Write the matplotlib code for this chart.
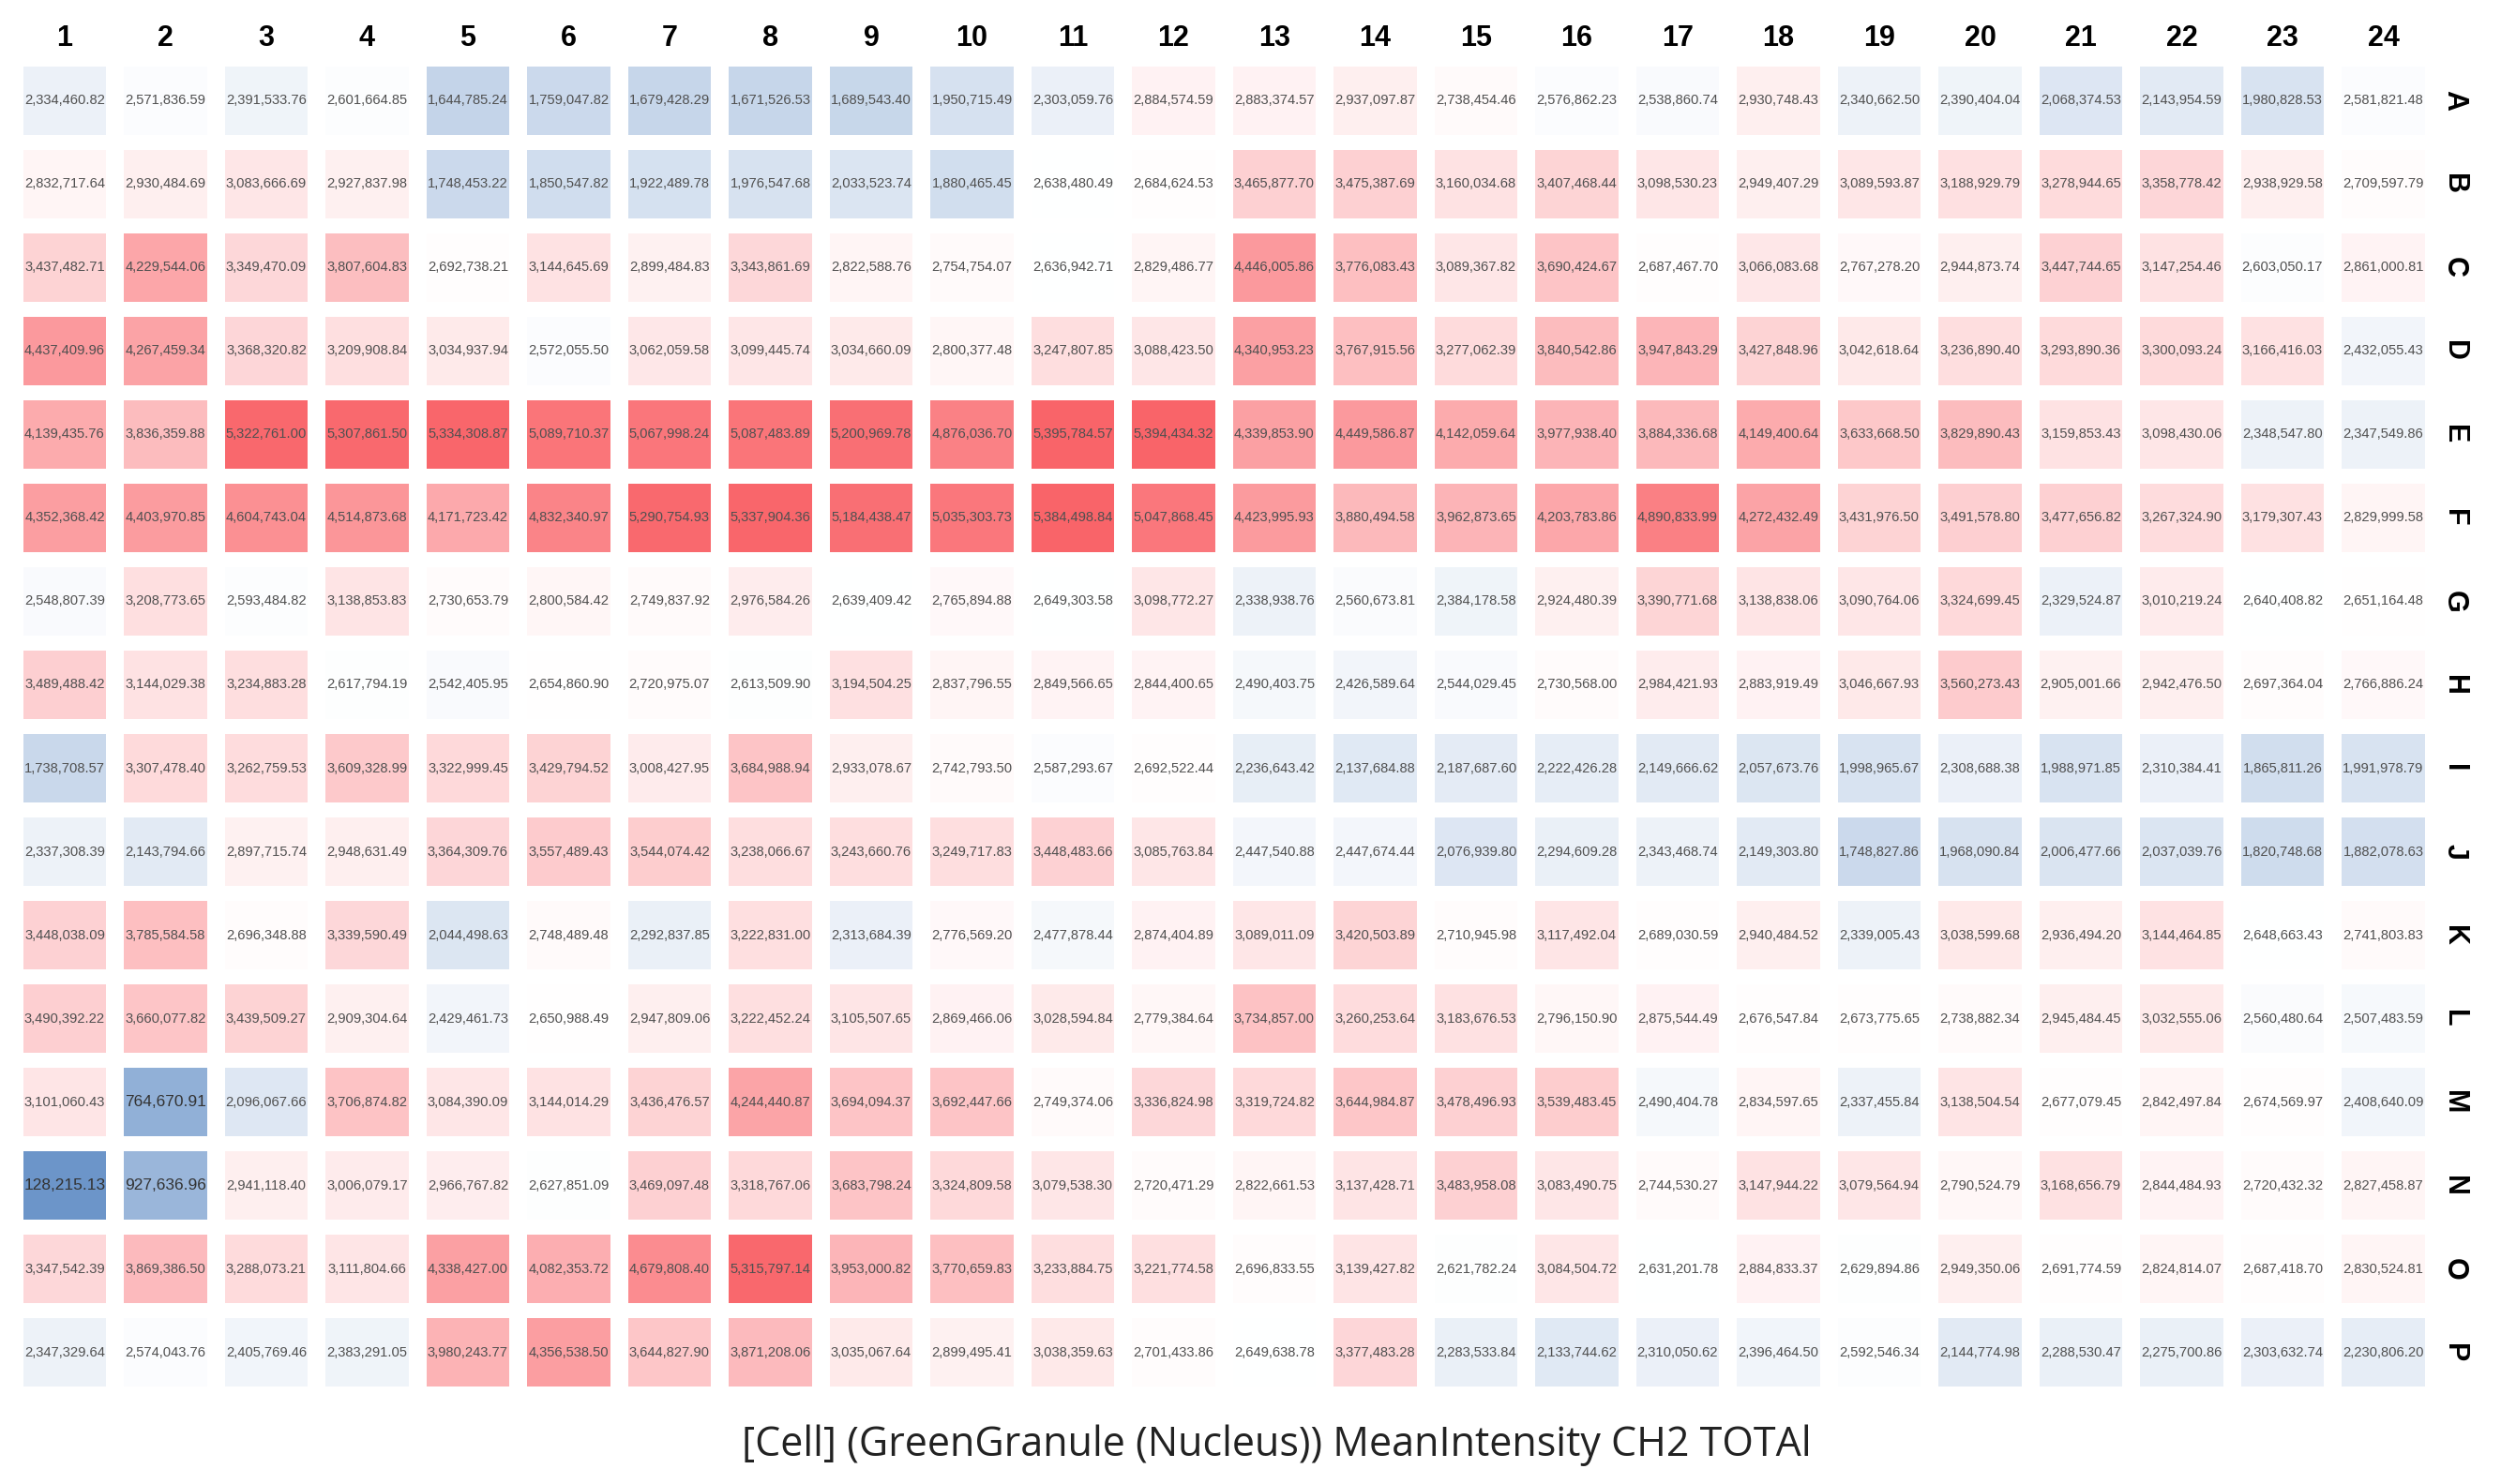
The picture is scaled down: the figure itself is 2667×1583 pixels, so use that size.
from matplotlib import pyplot as plt
from matplotlib.colors import LinearSegmentedColormap, TwoSlopeNorm
import numpy as np

columns = [str(i) for i in range(1, 25)]
rows = list("ABCDEFGHIJKLMNOP")
title = "[Cell] (GreenGranule (Nucleus)) MeanIntensity CH2 TOTAl"

# values, some digits are a best guess since the text is blurry
row_A = [2334460.82, 2571836.59, 2391533.76, 2601664.85, 1644785.24, 1759047.82, 1679428.29, 1671526.53, 1689543.40, 1950715.49, 2303059.76, 2884574.59, 2883374.57, 2937097.87, 2738454.46, 2576862.23, 2538860.74, 2930748.43, 2340662.50, 2390404.04, 2068374.53, 2143954.59, 1980828.53, 2581821.48]
row_B = [2832717.64, 2930484.69, 3083666.69, 2927837.98, 1748453.22, 1850547.82, 1922489.78, 1976547.68, 2033523.74, 1880465.45, 2638480.49, 2684624.53, 3465877.70, 3475387.69, 3160034.68, 3407468.44, 3098530.23, 2949407.29, 3089593.87, 3188929.79, 3278944.65, 3358778.42, 2938929.58, 2709597.79]
row_C = [3437482.71, 4229544.06, 3349470.09, 3807604.83, 2692738.21, 3144645.69, 2899484.83, 3343861.69, 2822588.76, 2754754.07, 2636942.71, 2829486.77, 4446005.86, 3776083.43, 3089367.82, 3690424.67, 2687467.70, 3066083.68, 2767278.20, 2944873.74, 3447744.65, 3147254.46, 2603050.17, 2861000.81]
row_D = [4437409.96, 4267459.34, 3368320.82, 3209908.84, 3034937.94, 2572055.50, 3062059.58, 3099445.74, 3034660.09, 2800377.48, 3247807.85, 3088423.50, 4340953.23, 3767915.56, 3277062.39, 3840542.86, 3947843.29, 3427848.96, 3042618.64, 3236890.40, 3293890.36, 3300093.24, 3166416.03, 2432055.43]
row_E = [4139435.76, 3836359.88, 5322761.00, 5307861.50, 5334308.87, 5089710.37, 5067998.24, 5087483.89, 5200969.78, 4876036.70, 5395784.57, 5394434.32, 4339853.90, 4449586.87, 4142059.64, 3977938.40, 3884336.68, 4149400.64, 3633668.50, 3829890.43, 3159853.43, 3098430.06, 2348547.80, 2347549.86]
row_F = [4352368.42, 4403970.85, 4604743.04, 4514873.68, 4171723.42, 4832340.97, 5290754.93, 5337904.36, 5184438.47, 5035303.73, 5384498.84, 5047868.45, 4423995.93, 3880494.58, 3962873.65, 4203783.86, 4890833.99, 4272432.49, 3431976.50, 3491578.80, 3477656.82, 3267324.90, 3179307.43, 2829999.58]
row_G = [2548807.39, 3208773.65, 2593484.82, 3138853.83, 2730653.79, 2800584.42, 2749837.92, 2976584.26, 2639409.42, 2765894.88, 2649303.58, 3098772.27, 2338938.76, 2560673.81, 2384178.58, 2924480.39, 3390771.68, 3138838.06, 3090764.06, 3324699.45, 2329524.87, 3010219.24, 2640408.82, 2651164.48]
row_H = [3489488.42, 3144029.38, 3234883.28, 2617794.19, 2542405.95, 2654860.90, 2720975.07, 2613509.90, 3194504.25, 2837796.55, 2849566.65, 2844400.65, 2490403.75, 2426589.64, 2544029.45, 2730568.00, 2984421.93, 2883919.49, 3046667.93, 3560273.43, 2905001.66, 2942476.50, 2697364.04, 2766886.24]
row_I = [1738708.57, 3307478.40, 3262759.53, 3609328.99, 3322999.45, 3429794.52, 3008427.95, 3684988.94, 2933078.67, 2742793.50, 2587293.67, 2692522.44, 2236643.42, 2137684.88, 2187687.60, 2222426.28, 2149666.62, 2057673.76, 1998965.67, 2308688.38, 1988971.85, 2310384.41, 1865811.26, 1991978.79]
row_J = [2337308.39, 2143794.66, 2897715.74, 2948631.49, 3364309.76, 3557489.43, 3544074.42, 3238066.67, 3243660.76, 3249717.83, 3448483.66, 3085763.84, 2447540.88, 2447674.44, 2076939.80, 2294609.28, 2343468.74, 2149303.80, 1748827.86, 1968090.84, 2006477.66, 2037039.76, 1820748.68, 1882078.63]
row_K = [3448038.09, 3785584.58, 2696348.88, 3339590.49, 2044498.63, 2748489.48, 2292837.85, 3222831.00, 2313684.39, 2776569.20, 2477878.44, 2874404.89, 3089011.09, 3420503.89, 2710945.98, 3117492.04, 2689030.59, 2940484.52, 2339005.43, 3038599.68, 2936494.20, 3144464.85, 2648663.43, 2741803.83]
row_L = [3490392.22, 3660077.82, 3439509.27, 2909304.64, 2429461.73, 2650988.49, 2947809.06, 3222452.24, 3105507.65, 2869466.06, 3028594.84, 2779384.64, 3734857.00, 3260253.64, 3183676.53, 2796150.90, 2875544.49, 2676547.84, 2673775.65, 2738882.34, 2945484.45, 3032555.06, 2560480.64, 2507483.59]
row_M = [3101060.43, 764670.91, 2096067.66, 3706874.82, 3084390.09, 3144014.29, 3436476.57, 4244440.87, 3694094.37, 3692447.66, 2749374.06, 3336824.98, 3319724.82, 3644984.87, 3478496.93, 3539483.45, 2490404.78, 2834597.65, 2337455.84, 3138504.54, 2677079.45, 2842497.84, 2674569.97, 2408640.09]
row_N = [128215.13, 927636.96, 2941118.40, 3006079.17, 2966767.82, 2627851.09, 3469097.48, 3318767.06, 3683798.24, 3324809.58, 3079538.30, 2720471.29, 2822661.53, 3137428.71, 3483958.08, 3083490.75, 2744530.27, 3147944.22, 3079564.94, 2790524.79, 3168656.79, 2844484.93, 2720432.32, 2827458.87]
row_O = [3347542.39, 3869386.50, 3288073.21, 3111804.66, 4338427.00, 4082353.72, 4679808.40, 5315797.14, 3953000.82, 3770659.83, 3233884.75, 3221774.58, 2696833.55, 3139427.82, 2621782.24, 3084504.72, 2631201.78, 2884833.37, 2629894.86, 2949350.06, 2691774.59, 2824814.07, 2687418.70, 2830524.81]
row_P = [2347329.64, 2574043.76, 2405769.46, 2383291.05, 3980243.77, 4356538.50, 3644827.90, 3871208.06, 3035067.64, 2899495.41, 3038359.63, 2701433.86, 2649638.78, 3377483.28, 2283533.84, 2133744.62, 2310050.62, 2396464.50, 2592546.34, 2144774.98, 2288530.47, 2275700.86, 2303632.74, 2230806.20]

values = np.array([row_A, row_B, row_C, row_D, row_E, row_F, row_G, row_H,
                   row_I, row_J, row_K, row_L, row_M, row_N, row_O, row_P])

W, H = 2667, 1583
fig = plt.figure(figsize=(W/100, H/100), dpi=100)

# plate area in pixels, converted to figure fractions
ax = fig.add_axes([15.2/W, 1 - 1487.5/H, 2580/W, 1425/H])

cmap = LinearSegmentedColormap.from_list("plate", ["#6c95c9", "#ffffff", "#f96469"])
norm = TwoSlopeNorm(vmin=values.min(), vcenter=2650000, vmax=values.max())

nrows, ncols = values.shape
for r in range(nrows):
    ax.bar(np.arange(ncols), 0.82, width=0.823, bottom=r - 0.41,
           color=cmap(norm(values[r])), linewidth=0)
    for c in range(ncols):
        v = values[r, c]
        small = v < 1000000
        ax.text(c, r, f"{v:,.2f}", ha="center", va="center", family="Liberation Sans",
                fontsize=12.5 if small else 10.6, color="#333333" if small else "#505050")

ax.set_xlim(-0.5, ncols - 0.5)
ax.set_ylim(nrows - 0.5, -0.5)

ax.xaxis.tick_top()
ax.set_xticks(np.arange(ncols))
ax.set_xticklabels(columns, family="Liberation Sans", fontweight="bold", fontsize=22, color="black")
ax.yaxis.tick_right()
ax.set_yticks(np.arange(nrows))
ax.set_yticklabels(rows, family="Liberation Sans", fontweight="bold", fontsize=22, color="black",
                   rotation=270, va="center")
ax.tick_params(length=0, pad=5)
for s in ax.spines.values():
    s.set_visible(False)

fig.text(1361/W, 1 - 1542/H, title, ha="center", va="center", family="Open Sans",
         fontsize=31, color="#222222")

fig.savefig("out.png", dpi=100, facecolor="white")
